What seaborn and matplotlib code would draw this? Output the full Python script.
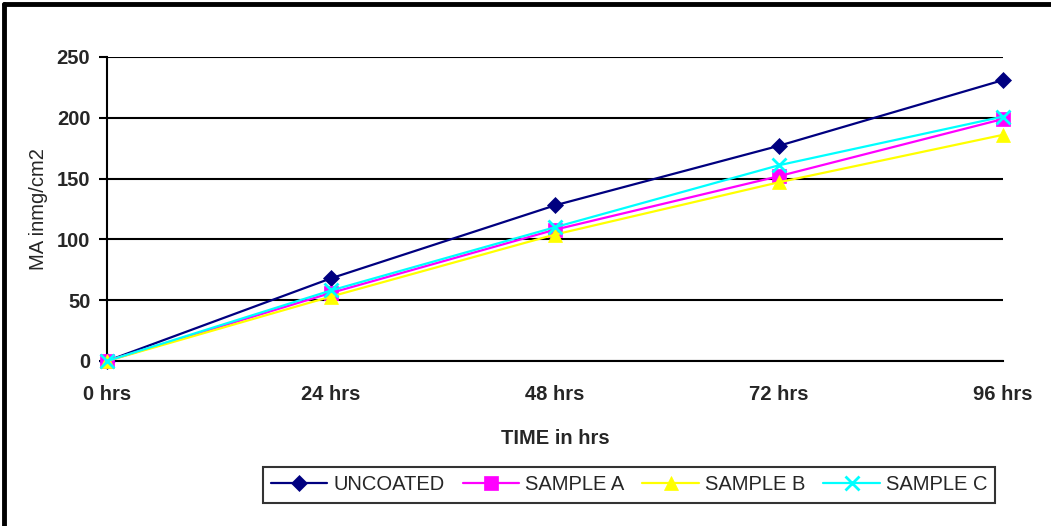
import pandas as pd
import numpy as np
import matplotlib.pyplot as plt
from matplotlib.lines import Line2D
import seaborn as sns

# Значения, отчетени от графиката
times = ["0 hrs", "24 hrs", "48 hrs", "72 hrs", "96 hrs"]
uncoated = [0, 68, 128, 177, 231]
sample_a = [0, 56, 108, 152, 199]
sample_b = [0, 53, 104, 147, 186]
sample_c = [0, 58, 110, 161, 201]

series = ["UNCOATED", "SAMPLE A", "SAMPLE B", "SAMPLE C"]
colors = {"UNCOATED": "#000080", "SAMPLE A": "#FF00FF",
          "SAMPLE B": "#FFFF00", "SAMPLE C": "#00FFFF"}
markers = {"UNCOATED": "D", "SAMPLE A": "s", "SAMPLE B": "^", "SAMPLE C": "x"}
msizes = {"UNCOATED": 8.5, "SAMPLE A": 9.5, "SAMPLE B": 10, "SAMPLE C": 10.5}

df = pd.DataFrame({
    "t": list(range(len(times))) * 4,
    "value": uncoated + sample_a + sample_b + sample_c,
    "series": np.repeat(series, len(times)),
})

sns.set_style("white")
plt.rcParams["font.family"] = ["Liberation Sans", "DejaVu Sans"]
FS = 14.5

fig = plt.figure(figsize=(10.51, 5.26), dpi=100)
ax = fig.add_axes([107 / 1051, 1 - 361 / 526, (1003 - 107) / 1051, (361 - 57) / 526])

for name in series:
    sub = df[df["series"] == name]
    sns.lineplot(data=sub, x="t", y="value", ax=ax, color=colors[name],
                 marker=markers[name], markersize=msizes[name],
                 markeredgecolor=colors[name], markeredgewidth=2 if name == "SAMPLE C" else 0.5,
                 linewidth=1.6, clip_on=False, zorder=3, legend=False)

ax.set_xlim(0, 4)
ax.set_ylim(0, 250)
ax.set_yticks([0, 50, 100, 150, 200, 250])
ax.set_xticks(range(len(times)))
ax.set_xticklabels(times, fontsize=FS, fontweight="bold")
for lbl in ax.get_yticklabels():
    lbl.set_fontsize(FS)
    lbl.set_fontweight("bold")
ax.tick_params(axis="x", direction="inout", length=14, width=1.5, pad=10, color="black")
ax.tick_params(axis="y", direction="out", length=6, width=1.5, pad=6, color="black", left=True)

ax.yaxis.grid(True, color="black", linewidth=1.5)
ax.set_axisbelow(True)
for s in ["top", "right"]:
    ax.spines[s].set_visible(False)
for s in ["left", "bottom"]:
    ax.spines[s].set_color("black")
    ax.spines[s].set_linewidth(1.5)

ax.set_xlabel("TIME in hrs", fontsize=FS, fontweight="bold", labelpad=18)
ax.set_ylabel("MA inmg/cm2", fontsize=FS, labelpad=6)

handles = [Line2D([], [], color=colors[n], marker=markers[n], markersize=msizes[n],
                  markeredgecolor=colors[n], markeredgewidth=2 if n == "SAMPLE C" else 0.5,
                  linewidth=1.6) for n in series]
leg = fig.legend(handles, series, loc="center", bbox_to_anchor=(629 / 1051, 1 - 485 / 526),
                 ncol=4, fontsize=FS, frameon=True, fancybox=False, shadow=False,
                 handlelength=2.8, columnspacing=0.9, handletextpad=0.3, borderpad=0.4)
leg.get_frame().set_edgecolor("black")
leg.get_frame().set_linewidth(1.5)

# Рамка на фигурата (само лява и горна)
fig.add_artist(Line2D([4 / 1051, 4 / 1051], [0, 1 - 4 / 526], color="black", linewidth=3.5))
fig.add_artist(Line2D([4 / 1051, 1], [1 - 4 / 526, 1 - 4 / 526], color="black", linewidth=3.5))

plt.savefig("out.png", dpi=100)
